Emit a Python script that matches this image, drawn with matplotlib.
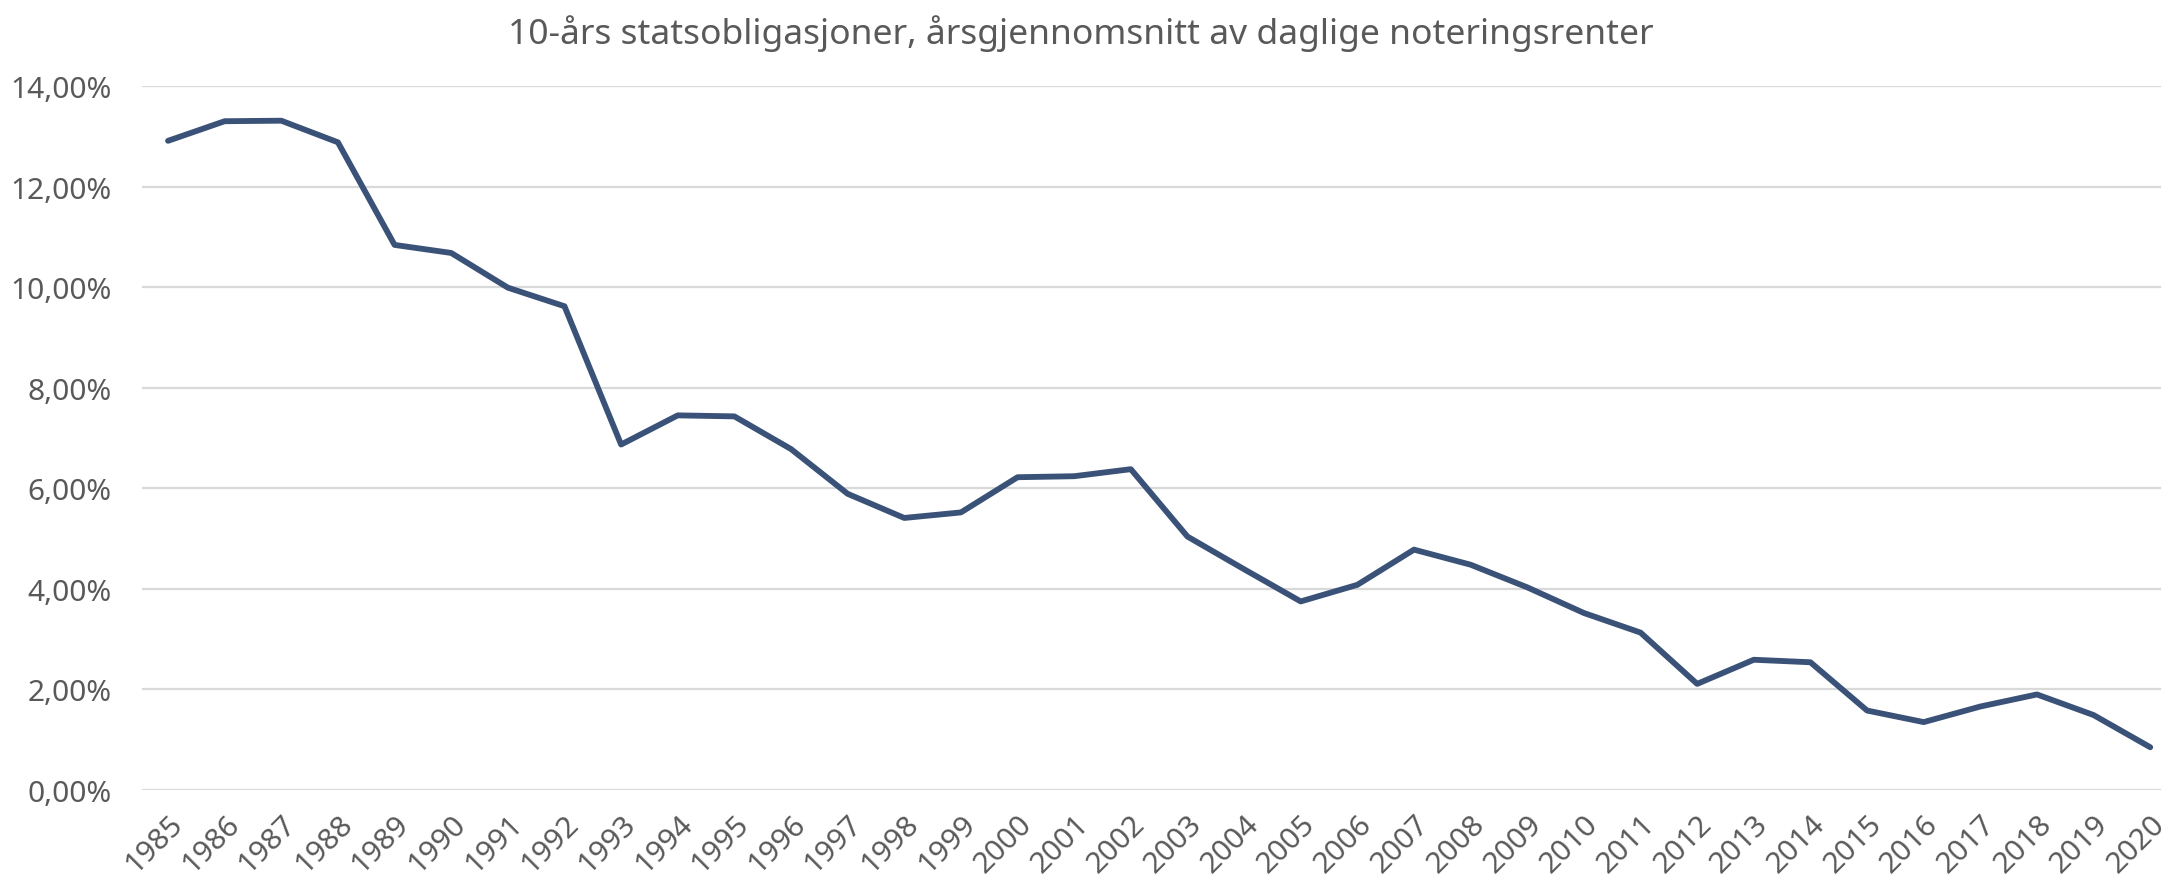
import matplotlib
matplotlib.use('Agg')
import matplotlib.pyplot as plt
from matplotlib.ticker import FuncFormatter

plt.rcParams['font.family'] = ['Noto Sans', 'DejaVu Sans']

# aarsgjennomsnitt, 10-aars statsobligasjoner (prosent)
years = list(range(1985, 2021))
rates = [12.91, 13.30, 13.31, 12.88, 10.84, 10.68, 9.99, 9.62, 6.87, 7.45,
         7.43, 6.78, 5.89, 5.41, 5.52, 6.22, 6.24, 6.38, 5.04, 4.39,
         3.75, 4.08, 4.78, 4.48, 4.03, 3.52, 3.13, 2.11, 2.59, 2.54,
         1.58, 1.35, 1.66, 1.90, 1.49, 0.85]
yticks = [0, 2, 4, 6, 8, 10, 12, 14]
title = '10-års statsobligasjoner, årsgjennomsnitt av daglige noteringsrenter'

TEXT = '#595959'
LINE = '#3A5278'

fig = plt.figure(figsize=(21.61, 8.78), dpi=100)
ax = fig.add_axes([0.0657, 0.0991, 0.9343, 0.8018])

x = list(range(len(years)))
ax.plot(x, rates, color=LINE, linewidth=4.2, solid_capstyle='round', solid_joinstyle='round', zorder=3)

ax.set_xlim(-0.46, len(years) - 1 + 0.19)
ax.set_ylim(0, 14)
ax.set_yticks(yticks)
ax.yaxis.set_major_formatter(FuncFormatter(lambda v, p: f'{v:.2f}'.replace('.', ',') + '%'))
ax.set_xticks(x)
ax.set_xticklabels([str(y) for y in years], rotation=45, ha='right', rotation_mode='anchor')

ax.grid(axis='y', color='#D9D9D9', linewidth=1.6)
ax.set_axisbelow(True)
for s in ax.spines.values():
    s.set_visible(False)
ax.tick_params(axis='both', length=0, colors=TEXT, labelsize=21.5)
ax.tick_params(axis='y', pad=22)
ax.tick_params(axis='x', pad=14)

fig.text(0.5, 0.962, title, ha='center', va='center', fontsize=25.5, color=TEXT)

fig.savefig('out.png', dpi=100)
